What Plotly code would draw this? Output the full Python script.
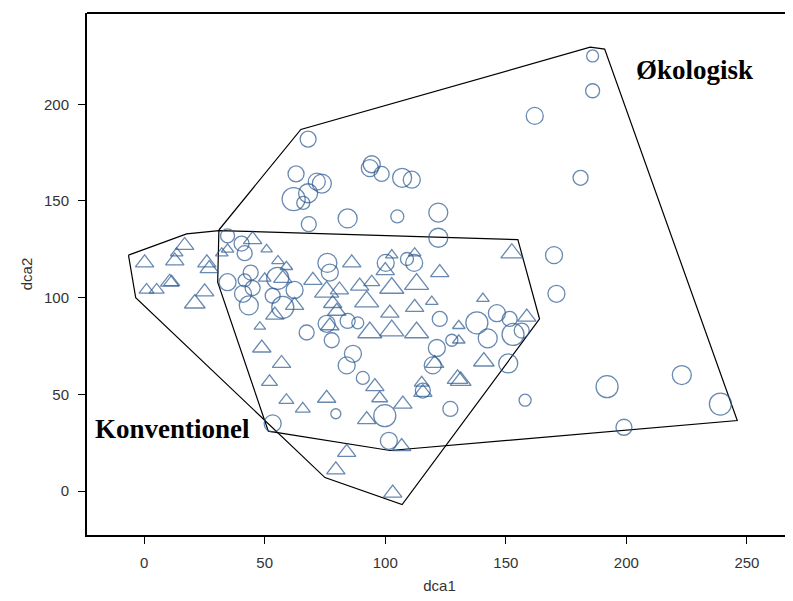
import plotly.graph_objects as go

# Økologisk (circles)
oko_x = [186, 186, 162, 181, 170, 171, 192, 223, 239, 199,
         68, 63, 62, 68, 66, 73.7, 71.6, 68.3, 84.4, 94.4,
         93.6, 98.5, 107, 111, 105, 122, 122, 34.6, 40.4, 41.7,
         44.2, 34.6, 41.7, 45, 41, 43.4, 55.4, 53.3, 62.4, 57.5,
         76, 77, 75.7, 77.8, 84.4, 88.6, 67.4, 86.6, 84, 100.2,
         109, 112, 122.6, 121.4, 127.6, 138, 142.5, 146.3, 151.6, 153,
         156.6, 151, 90.7, 119.7, 158, 79.5, 99.8, 101.5, 127, 115.6,
         53.3]
oko_y = [225, 207, 194, 162, 122, 102, 54, 60, 45, 33,
         182, 164, 151, 154, 149, 159, 160, 138, 141, 169,
         167, 164, 162, 161, 142, 144, 131, 132, 128, 123,
         113, 108, 109, 105, 102, 96, 110, 101, 104, 95,
         118, 113, 86.5, 78, 88, 87, 82, 71, 65, 118,
         120, 118, 89, 74, 78, 87, 79, 92, 89, 81,
         83, 66, 58.5, 65, 47, 40, 39, 26, 42.5, 52,
         35]
oko_s = [12, 14, 17, 15, 17, 17, 22, 19, 22, 16,
         16, 16, 23, 19, 13, 19, 17, 15, 19, 17,
         17, 15, 19, 17, 13, 19, 19, 14, 15, 15,
         15, 17, 13, 15, 17, 19, 22, 15, 17, 22,
         19, 17, 17, 15, 15, 12, 15, 17, 17, 17,
         13, 17, 15, 17, 12, 22, 19, 17, 15, 22,
         15, 19, 13, 17, 12, 10, 22, 17, 15, 15,
         17]

# Konventionel (triangles)
kon_x = [0.2, 16.8, 13.5, 12.7, 26, 27, 1, 5.2, 10.6, 11.4,
         25.1, 21, 32.2, 34.6, 45, 50.8, 55.5, 59, 57.5, 50,
         70, 62.4, 54.2, 48, 48.8, 57, 52, 59, 65.8, 86.1,
         75.7, 81, 89.4, 94.4, 92.3, 78.2, 79.9, 77, 93.6, 100,
         102.7, 102.7, 101.9, 102.7, 112.2, 113, 112.2, 119.3, 113, 122.6,
         152.5, 140.5, 130.5, 130.5, 158.7, 140.9, 120.5, 130, 131.3, 115.1,
         115.6, 95.7, 97.7, 75.7, 92.3, 107.3, 84, 79.5, 103.1, 106.8]
kon_y = [118, 127, 123, 119, 118, 115, 104, 104, 108, 108,
         103, 97, 123, 125, 130, 125, 119, 116, 110, 110,
         109, 96, 91, 85, 74, 66, 56.5, 47, 42.5, 118,
         103, 104, 106, 108, 98, 97, 93, 85.5, 82, 114,
         122, 105, 92, 83, 123, 107, 95, 98, 82, 113,
         123, 99.5, 85.5, 78, 90, 67, 66, 58, 57, 56,
         51, 54, 48, 48, 37, 45, 20, 11, -1, 23]
kon_s = [16, 16, 11, 16, 16, 16, 13, 13, 16, 14,
         16, 18, 11, 11, 16, 10, 11, 11, 16, 11,
         16, 16, 16, 10, 16, 16, 14, 13, 13, 16,
         21, 16, 16, 14, 21, 16, 16, 16, 21, 16,
         11, 21, 16, 21, 11, 21, 16, 11, 21, 16,
         19, 11, 11, 11, 16, 18, 16, 18, 18, 13,
         16, 16, 14, 16, 16, 16, 16, 16, 16, 16]

# Convex hulls
oko_hull_x = [31, 30.5, 51.5, 102, 246, 191, 185, 65, 31]
oko_hull_y = [135, 108, 31, 21, 36.5, 228.5, 229.5, 187, 135]
kon_hull_x = [-6.5, -3.5, 75, 107, 164, 155, 31, 17.6, -6.5]
kon_hull_y = [122, 100, 7, -7, 89, 130, 134.7, 133, 122]

x_ticks = [0, 50, 100, 150, 200, 250]
y_ticks = [0, 50, 100, 150, 200]

blue = "#28578f"
fig = go.Figure()
fig.add_trace(go.Scatter(x=oko_hull_x, y=oko_hull_y, mode="lines",
                         line=dict(color="black", width=1.2), hoverinfo="skip"))
fig.add_trace(go.Scatter(x=kon_hull_x, y=kon_hull_y, mode="lines",
                         line=dict(color="black", width=1.2), hoverinfo="skip"))
fig.add_trace(go.Scatter(x=oko_x, y=oko_y, mode="markers",
                         marker=dict(symbol="circle-open", size=oko_s, color=blue,
                                     line=dict(width=1.3, color=blue))))
fig.add_trace(go.Scatter(x=kon_x, y=kon_y, mode="markers",
                         marker=dict(symbol="triangle-up-open", size=kon_s, color=blue,
                                     line=dict(width=1.3, color=blue))))

serif = "Liberation Serif"
fig.add_annotation(x=228.4, y=217.5, text="<b>Økologisk</b>", showarrow=False,
                   font=dict(family=serif, size=27, color="black"),
                   xanchor="center", yanchor="middle")
fig.add_annotation(x=11.8, y=32, text="<b>Konventionel</b>", showarrow=False,
                   font=dict(family=serif, size=27, color="black"),
                   xanchor="center", yanchor="middle")

fig.add_shape(type="line", xref="paper", yref="paper", x0=0, x1=1, y0=1, y1=1,
              line=dict(color="black", width=2))

axis_font = dict(family="Liberation Sans", size=15, color="#333")
fig.update_layout(
    width=785, height=593,
    margin=dict(l=79, r=1, t=5, b=66),
    paper_bgcolor="white", plot_bgcolor="white",
    showlegend=False,
    xaxis=dict(range=[-23.7, 268.7], tickvals=x_ticks, ticks="outside", ticklen=7,
               tickcolor="black", showgrid=False, zeroline=False,
               showline=True, linecolor="black", linewidth=2,
               ticklabelstandoff=6,
               tickfont=axis_font, title=dict(text="dca1", font=axis_font, standoff=10)),
    yaxis=dict(range=[-22.7, 247.2], tickvals=y_ticks, ticks="outside", ticklen=7,
               tickcolor="black", showgrid=False, zeroline=False,
               showline=True, linecolor="black", linewidth=2,
               ticklabelstandoff=6,
               tickfont=axis_font, title=dict(text="dca2", font=axis_font, standoff=8)),
)

fig.write_html("out.html")
